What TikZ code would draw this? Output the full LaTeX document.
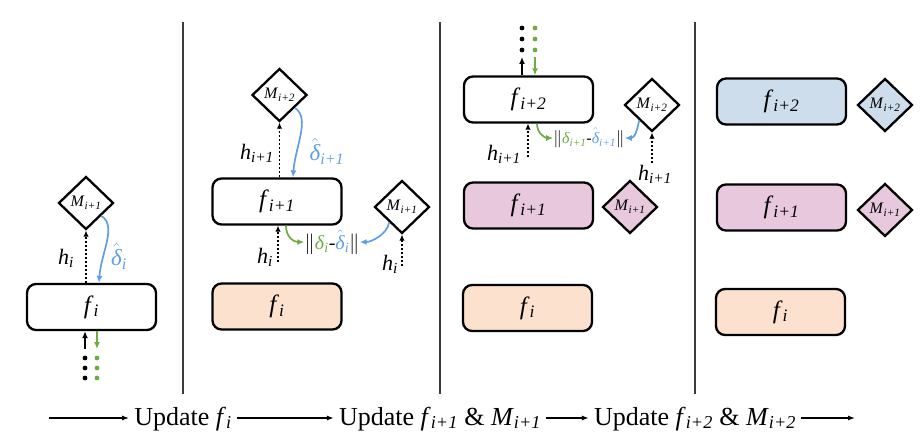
\documentclass[tikz,border=0pt]{standalone}
\usepackage{fontspec}
\setmainfont{Liberation Serif}
\usetikzlibrary{shapes.geometric,arrows.meta}
\definecolor{cblue}{RGB}{95,158,228}
\definecolor{cgreen}{RGB}{112,170,68}
\definecolor{forange}{RGB}{251,225,206}
\definecolor{fpurple}{RGB}{231,200,221}
\definecolor{fblue}{RGB}{205,221,235}
\definecolor{sepgray}{RGB}{60,60,60}
\newcommand{\vv}[2]{\textit{#1}\textsubscript{\textit{#2}}}
\newcommand{\dl}{\textit{δ}}
\newcommand{\dlhat}{$\hat{\mbox{\itshape δ}}$}
\newcommand{\fs}[1]{\fontsize{#1}{#1}\selectfont}
\begin{document}
\begin{tikzpicture}[x=1pt,y=-1pt,
 box/.style={draw,line width=2.3pt,rounded corners=9pt,minimum width=129pt,minimum height=46pt,inner sep=0pt,font=\fs{25}},
 dia/.style={draw,diamond,line width=2.3pt,minimum width=55pt,minimum height=53pt,inner sep=0pt,font=\fs{16}},
 dotarr/.style={line width=1.9pt,dash pattern=on 2pt off 2pt,-{Latex[length=6pt,width=5.5pt]}},
 blarr/.style={cblue,line width=1.7pt,-{Latex[length=7pt,width=6pt]}},
 grarr/.style={cgreen,line width=1.7pt,-{Latex[length=7pt,width=6pt]}},
 solarr/.style={line width=1.7pt,-{Latex[length=7pt,width=6pt]}},
 lab/.style={font=\fs{22},inner sep=0pt},
 dotc/.style={circle,fill,inner sep=0pt,minimum size=4.8pt},
 sep/.style={sepgray,line width=1.4pt},
 bot/.style={font=\fs{26},inner sep=5pt,anchor=base},
 botarr/.style={line width=1.3pt,-{Latex[length=7pt,width=5pt]}}
]
\useasboundingbox (0,0) rectangle (921,436);
% separators
\draw[sep] (183,22) -- (183,394);
\draw[sep] (440,22) -- (440,394);
\draw[sep] (695,22) -- (695,394);

% ---------- panel 1
\node[box] (f1) at (91.5,307) {\vv{f}{i}};
\node[dia] (m1) at (86,203) {\vv{M}{i+1}};
\draw[dotarr] (m1.south |- f1.north) -- (m1.south);
\node[lab] (l1h) at (66,258) {\vv{h}{i}};
\draw[blarr] (m1.-40) .. controls +(16,10) and +(2,-30) .. ([xshift=7.5pt]f1.north);
\node[lab,text=cblue,font=\fs{23}] (l1d) at (119,256) {\dlhat\textsubscript{\textit{i}}};
\coordinate (b1) at (85,349);
\draw[solarr] (b1) -- (b1 |- f1.south);
\coordinate (g1) at (97,349);
\draw[grarr] (g1 |- f1.south) -- (g1);
\node[dotc] (d1a) at (85,358) {};
\node[dotc] (d1b) at (85,368) {};
\node[dotc] (d1c) at (85,378) {};
\node[dotc,cgreen] (d1d) at (97,358) {};
\node[dotc,cgreen] (d1e) at (97,368) {};
\node[dotc,cgreen] (d1f) at (97,378) {};

% ---------- panel 2
\node[box] (f2) at (277,201.5) {\vv{f}{i+1}};
\node[dia] (m2) at (279.5,95) {\vv{M}{i+2}};
\draw[dotarr] (m2.south |- f2.north) -- (m2.south);
\node[lab] (l2h) at (257,153) {\vv{h}{i+1}};
\draw[blarr] (m2.-40) .. controls +(16,10) and +(2,-30) .. ([xshift=16pt]f2.north);
\node[lab,text=cblue,font=\fs{23}] (l2d) at (327,151) {\dlhat\textsubscript{\textit{i+1}}};
\coordinate (h2) at (278,262);
\draw[dotarr] (h2) -- (h2 |- f2.south);
\node[lab] (l2h2) at (265,257) {\vv{h}{i}};
\node[font=\fs{20},inner sep=0pt] (n2) at (332,242) {$\Vert$\textcolor{cgreen}{\dl\textsubscript{\textit{i}}}-\textcolor{cblue}{\dlhat\textsubscript{\textit{i}}}$\Vert$};
\draw[grarr] ([xshift=9pt]f2.south) .. controls +(0,12) and +(-10,0) .. (n2.west);
\node[dia] (m2b) at (402,207) {\vv{M}{i+1}};
\coordinate (h2b) at (402,266);
\draw[dotarr] (h2b) -- (m2b.south);
\node[lab] (l2h3) at (390,264) {\vv{h}{i}};
\draw[blarr] (m2b.-130) .. controls +(-2,12) and +(12,0) .. (n2.east);
\node[box,fill=forange] (f2o) at (277,306.5) {\vv{f}{i}};

% ---------- panel 3
\node[box] (f3) at (528.5,99.5) {\vv{f}{i+2}};
\coordinate (t3a) at (522,57);
\draw[solarr] (t3a |- f3.north) -- (t3a);
\coordinate (t3b) at (535,57);
\draw[grarr] (t3b) -- (t3b |- f3.north);
\node[dotc] (d3a) at (522,28) {};
\node[dotc] (d3b) at (522,39) {};
\node[dotc] (d3c) at (522,50) {};
\node[dotc,cgreen] (d3d) at (535,28) {};
\node[dotc,cgreen] (d3e) at (535,39) {};
\node[dotc,cgreen] (d3f) at (535,50) {};
\node[dia] (m3) at (652,105) {\vv{M}{i+2}};
\coordinate (h3b) at (652,163);
\draw[dotarr] (h3b) -- (m3.south);
\node[lab] (l3h2) at (655,174) {\vv{h}{i+1}};
\coordinate (h3) at (528,157);
\draw[dotarr] (h3) -- (h3 |- f3.south);
\node[lab] (l3h) at (504,154) {\vv{h}{i+1}};
\node[font=\fs{16},inner sep=0pt] (n3) at (589,138) {$\Vert$\textcolor{cgreen}{\dl\textsubscript{\textit{i+1}}}-\textcolor{cblue}{\dlhat\textsubscript{\textit{i+1}}}$\Vert$};
\draw[grarr] ([xshift=8.5pt]f3.south) .. controls +(0,10) and +(-8,0) .. (n3.west);
\draw[blarr] (m3.-130) .. controls +(-2,10) and +(10,0) .. (n3.east);
\node[box,fill=fpurple] (f3p) at (528.5,205.5) {\vv{f}{i+1}};
\node[dia,fill=fpurple] (m3p) at (630,207) {\vv{M}{i+1}};
\node[box,fill=forange] (f3o) at (527.5,308) {\vv{f}{i}};

% ---------- panel 4
\node[box,fill=fblue] (f4b) at (781.5,101.5) {\vv{f}{i+2}};
\node[dia,fill=fblue] (m4b) at (885,105) {\vv{M}{i+2}};
\node[box,fill=fpurple] (f4p) at (781.5,207.5) {\vv{f}{i+1}};
\node[dia,fill=fpurple] (m4p) at (885,210) {\vv{M}{i+1}};
\node[box,fill=forange] (f4o) at (780.5,312) {\vv{f}{i}};

% ---------- bottom
\node[bot] (u1) at (183,425) {Update \vv{f}{i}};
\node[bot] (u2) at (440,425) {Update \vv{f}{i+1} \& \vv{M}{i+1}};
\node[bot] (u3) at (695,425) {Update \vv{f}{i+2} \& \vv{M}{i+2}};
\coordinate (s0) at (49,418);
\coordinate (s4) at (855,418);
\draw[botarr] (s0) -- (s0 -| u1.west);
\draw[botarr] (u1.east |- s0) -- (s0 -| u2.west);
\draw[botarr] (u2.east |- s0) -- (s0 -| u3.west);
\draw[botarr] (u3.east |- s0) -- (s4);
\end{tikzpicture}
\end{document}
